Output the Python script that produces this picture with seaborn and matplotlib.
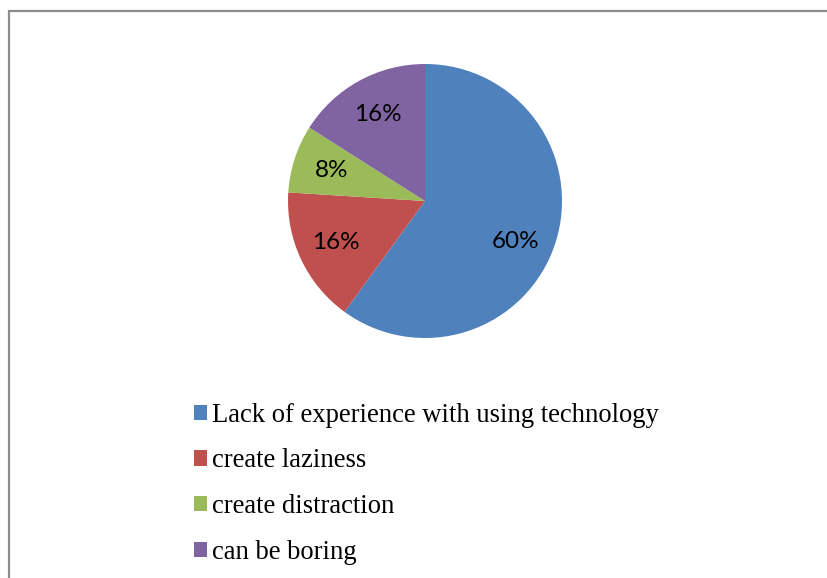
import matplotlib
matplotlib.use("Agg")
import numpy as np
import matplotlib.pyplot as plt
import seaborn as sns
from matplotlib.patches import Patch

categories = ["Lack of experience with using technology", "create laziness",
              "create distraction", "can be boring"]
shares = [60, 16, 8, 16]
colors = ["#4F81BD", "#C0504D", "#9BBB59", "#8064A2"]

sns.set_theme(style="white")
plt.rcParams["font.family"] = ["Liberation Serif", "DejaVu Serif"]
plt.rcParams["text.color"] = "black"

W, H = 828, 578
fig = plt.figure(figsize=(W / 100, H / 100), dpi=100)
fig.patch.set_facecolor("white")

# chart frame (top and left edges visible)
fig.add_artist(plt.Line2D([8.5 / W, 1.0], [1 - 10.5 / H, 1 - 10.5 / H],
                          transform=fig.transFigure, color="#8c8c8c", lw=1.6))
fig.add_artist(plt.Line2D([8.5 / W, 8.5 / W], [1 - 10.5 / H, 0.0],
                          transform=fig.transFigure, color="#8c8c8c", lw=1.6))

cx, cy, r = 425, 201, 137
ax = fig.add_axes([(cx - r) / W, (H - cy - r) / H, 2 * r / W, 2 * r / H])
wedges, texts, autotexts = ax.pie(
    shares, colors=colors, startangle=90, counterclock=False,
    autopct=lambda p: f"{p:.0f}%", pctdistance=0.72,
    wedgeprops=dict(linewidth=0),
    textprops=dict(fontsize=17.5, color="black", family=["Lato", "DejaVu Sans"]),
)
# the large slice's label sits a little lower along its arc
w0 = wedges[0]
ang = np.deg2rad((w0.theta1 + w0.theta2) / 2 - 6)
autotexts[0].set_position((0.72 * np.cos(ang), 0.72 * np.sin(ang)))

ax.set_xlim(-1, 1)
ax.set_ylim(-1, 1)
ax.set_aspect("equal")
ax.axis("off")

handles = [Patch(facecolor=c, edgecolor="none") for c in colors]
fig.legend(handles, categories, loc="upper left",
           bbox_to_anchor=(183 / W, 1 - 392 / H), frameon=False,
           fontsize=19.2, handlelength=0.5, handleheight=0.5,
           handletextpad=0.2, labelspacing=0.78, borderaxespad=0,
           labelcolor="black")

fig.savefig("out.png", dpi=100)
